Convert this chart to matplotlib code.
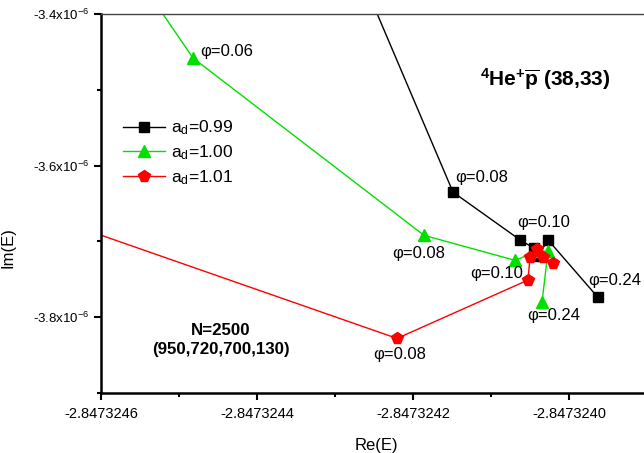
import matplotlib
matplotlib.use("Agg")
import matplotlib.pyplot as plt

plt.rcParams['font.family'] = ['Liberation Sans', 'DejaVu Sans']
plt.rcParams['mathtext.fontset'] = 'custom'
plt.rcParams['mathtext.rm'] = 'Liberation Sans'
plt.rcParams['mathtext.it'] = 'Liberation Sans:italic'
plt.rcParams['mathtext.bf'] = 'Liberation Sans:bold'

# Re(E), Im(E) for each a_d (first point sits outside the plotted window)
re_099 = [-2.8473242872, -2.8473241487, -2.8473240628, -2.8473240449, -2.8473240397, -2.8473240269, -2.8473239628]
im_099 = [-3.300e-6, -3.635e-6, -3.698e-6, -3.709e-6, -3.719e-6, -3.698e-6, -3.774e-6]

re_100 = [-2.8473245872, -2.8473244821, -2.8473241859, -2.8473240692, -2.8473240410, -2.8473240269, -2.8473240346]
im_100 = [-3.300e-6, -3.458e-6, -3.692e-6, -3.725e-6, -3.713e-6, -3.713e-6, -3.780e-6]

re_101 = [-2.8473248000, -2.8473242205, -2.8473240526, -2.8473240500, -2.8473240410, -2.8473240333, -2.8473240205]
im_101 = [-3.620e-6, -3.828e-6, -3.751e-6, -3.721e-6, -3.710e-6, -3.721e-6, -3.729e-6]

# phi labels: (series, point index, text, offset in pixels, alignment)
etiquetas = [
    ('099', 1, r'φ=0.08', (2, 15), 'left'),
    ('099', 5, r'φ=0.10', (-4, 17), 'center'),
    ('099', 6, r'φ=0.24', (-10, 17), 'left'),
    ('100', 1, r'φ=0.06', (7, 6), 'left'),
    ('100', 2, r'φ=0.08', (-5, -18), 'center'),
    ('100', 3, r'φ=0.10', (-18, -13), 'center'),
    ('100', 6, r'φ=0.24', (12, -13), 'center'),
    ('101', 1, r'φ=0.08', (3, -16), 'center'),
]

xticks = [-2.8473246, -2.8473244, -2.8473242, -2.8473240]
xtick_labels = ['-2.8473246', '-2.8473244', '-2.8473242', '-2.8473240']
xminor = [-2.8473245, -2.8473243, -2.8473241]
yticks = [-3.4e-6, -3.6e-6, -3.8e-6]
ytick_labels = [r'-3.4x10$^{-6}$', r'-3.6x10$^{-6}$', r'-3.8x10$^{-6}$']
yminor = [-3.5e-6, -3.7e-6, -3.9e-6]

fig = plt.figure(figsize=(6.44, 4.53), dpi=100)
ax = fig.add_axes([101 / 644, 60 / 453, 546 / 644, 379 / 453])

verde = '#00e000'
ax.plot(re_099, im_099, '-s', color='black', lw=1, ms=6.5, label=r'a$_\mathrm{d}$=0.99')
ax.plot(re_100, im_100, '-^', color=verde, lw=1, ms=8, label=r'a$_\mathrm{d}$=1.00')
ax.plot(re_101, im_101, '-p', color='red', lw=1, ms=8.5, label=r'a$_\mathrm{d}$=1.01')

series = {'099': (re_099, im_099), '100': (re_100, im_100), '101': (re_101, im_101)}
for s, i, txt, off, ha in etiquetas:
    xs, ys = series[s]
    ax.annotate(txt, (xs[i], ys[i]), xytext=off, textcoords='offset pixels',
                ha=ha, va='center', fontsize=12)

ax.set_xlim(-2.8473246, -2.8473239)
ax.set_ylim(-3.9e-6, -3.4e-6)

ax.set_xticks(xticks)
ax.set_xticklabels(xtick_labels)
ax.set_xticks(xminor, minor=True)
ax.set_yticks(yticks)
ax.set_yticklabels(ytick_labels)
ax.set_yticks(yminor, minor=True)
ax.tick_params(axis='x', which='major', labelsize=10.5, pad=5)
ax.tick_params(axis='y', which='major', labelsize=9.5)
ax.tick_params(which='major', direction='out', length=5, width=1.5)
ax.tick_params(which='minor', direction='out', length=3, width=1.5)

ax.spines['left'].set_linewidth(1.8)
ax.spines['bottom'].set_linewidth(1.8)
ax.spines['top'].set_linewidth(1)
ax.spines['top'].set_color('#444444')
ax.spines['right'].set_visible(False)

ax.set_xlabel('Re(E)', fontsize=12)
ax.set_ylabel('Im(E)', fontsize=12)
ax.xaxis.set_label_coords(0.505, -0.119)
ax.yaxis.set_label_coords(-0.157, 0.385)

ax.text((545 - 101) / 546, (393 - 80) / 379,
        r'$^{\mathbf{4}}$He$^{\mathbf{+}}$$\overline{\mathbf{p}}$ (38,33)',
        transform=ax.transAxes, ha='center', va='center', fontsize=15, fontweight='bold')
ax.text((221 - 101) / 546, (393 - 340) / 379, 'N=2500\n(950,720,700,130)',
        transform=ax.transAxes, ha='center', va='center', fontsize=12.2,
        fontweight='bold', linespacing=1.4)

ax.legend(loc='upper left', bbox_to_anchor=(0.04, 0.724), frameon=False,
          fontsize=12.5, handlelength=2.4, handletextpad=0.4, labelspacing=0.35,
          borderpad=0, borderaxespad=0)

fig.savefig('out.png', dpi=100)
